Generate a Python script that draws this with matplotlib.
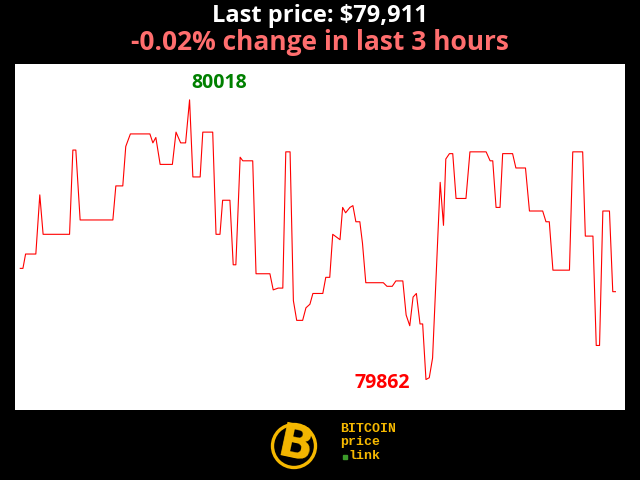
############################ Bitcoin price chart ############################
'''
Last 3 hours of bitcoin price with the high and low marked
'''
import matplotlib.pyplot as plt
from matplotlib.patches import Circle, Rectangle

minutes = [0, 0.8, 1.6, 4.7, 5.9, 6.9, 14.9, 15.9, 16.8, 18.1,
           28.0, 28.9, 31.0, 31.9, 33.3, 39.2, 40.1, 41.0, 42.3, 46.0,
           47.1, 48.5, 50.0, 51.2, 52.2, 54.4, 55.2, 58.2, 59.2, 60.4,
           61.2, 63.4, 64.4, 65.2, 66.5, 67.3, 70.3, 71.3, 75.5, 76.5,
           78.0, 79.4, 80.3, 81.6, 82.6, 83.6, 85.4, 86.4, 87.6, 88.5,
           91.5, 92.4, 93.6, 94.5, 96.7, 97.5, 98.4, 99.7, 100.6, 101.5,
           102.7, 103.5, 104.5, 109.8, 110.9, 112.5, 113.6, 115.7, 116.7, 117.8,
           118.8, 119.8, 120.9, 121.7, 122.7, 123.7, 124.7, 127.0, 128.0, 128.7,
           129.8, 130.8, 131.8, 134.8, 136.0, 140.9, 142.1, 142.9, 143.9, 145.1,
           145.9, 148.9, 149.9, 152.8, 154.0, 158.0, 159.0, 160.0, 161.1, 166.1,
           167.1, 170.1, 170.9, 173.2, 174.2, 175.2, 176.2, 178.2, 179.2, 180.0]
prices = [79924, 79924, 79932, 79932, 79965, 79943, 79943, 79990, 79990, 79951,
          79951, 79970, 79970, 79992, 79999, 79999, 79994, 79997, 79982, 79982,
          80000, 79994, 79994, 80018, 79975, 79975, 80000, 80000, 79943, 79943,
          79962, 79962, 79926, 79926, 79986, 79984, 79984, 79921, 79921, 79912,
          79913, 79913, 79989, 79989, 79906, 79895, 79895, 79902, 79904, 79910,
          79910, 79919, 79919, 79943, 79940, 79958, 79955, 79958, 79959, 79950,
          79950, 79938, 79916, 79916, 79914, 79914, 79917, 79917, 79898, 79892,
          79908, 79910, 79893, 79893, 79862, 79863, 79874, 79972, 79948, 79985,
          79988, 79988, 79963, 79963, 79989, 79989, 79984, 79984, 79958, 79958,
          79988, 79988, 79980, 79980, 79956, 79956, 79950, 79950, 79923, 79923,
          79989, 79989, 79942, 79942, 79881, 79881, 79956, 79956, 79911, 79911]
last_price = 79911
change_pct = -0.02
hours = 3

############################# Figure ########################################
fig = plt.figure(figsize=(6.4, 4.8), dpi=100, facecolor='black')
ax = fig.add_axes([15/640, 70/480, 610/640, 346/480])
ax.set_facecolor('white')
ax.plot(minutes, prices, color='red', linewidth=0.8)
ax.set_xlim(-1.6, 182.9)
ax.set_ylim(79845, 80038)
ax.set_xticks([])
ax.set_yticks([])
for s in ax.spines.values():
    s.set_visible(False)

hi = max(prices)
lo = min(prices)
i_hi = prices.index(hi)
i_lo = prices.index(lo)
ax.text(minutes[i_hi] + 9, hi + 9.5, str(hi), color='green', fontsize=14,
        fontweight='bold', family='Open Sans', ha='center', va='center')
ax.text(minutes[i_lo] - 13.3, lo - 2, str(lo), color='red', fontsize=14,
        fontweight='bold', family='Open Sans', ha='center', va='center')

fig.text(0.5, 1 - 16/480, 'Last price: ${:,}'.format(last_price), color='white',
         fontsize=17, fontweight='bold', family='Open Sans', ha='center', va='center')
fig.text(0.5, 1 - 43/480, '{:.2f}% change in last {} hours'.format(change_pct, hours),
         color='#ff6e6e', fontsize=19, fontweight='bold', family='Open Sans',
         ha='center', va='center')

############################# Logo ##########################################
gold = '#f5b800'
lax = fig.add_axes([265/640, 5/480, 60/640, 60/480])
lax.set_xlim(0, 60)
lax.set_ylim(0, 60)
lax.axis('off')
lax.add_patch(Circle((29, 29), 21.5, facecolor='black', edgecolor=gold, linewidth=2.4))
lax.text(30, 29, 'B', color=gold, fontsize=33, fontweight='bold', family='DejaVu Sans',
         ha='center', va='center', rotation=-12)
fig.text(340/640, 1 - 429/480, 'BITCOIN', color=gold, fontsize=9.5, fontweight='bold',
         family='Liberation Mono', ha='left', va='center')
fig.text(340/640, 1 - 442/480, 'price', color=gold, fontsize=9.5, fontweight='bold',
         family='Liberation Mono', ha='left', va='center')
fig.text(348/640, 1 - 456/480, 'link', color=gold, fontsize=9.5, fontweight='bold',
         family='Liberation Mono', ha='left', va='center')
fig.add_artist(Rectangle((343/640, 1 - 459/480), 4/640, 4/480,
                         transform=fig.transFigure, color='#3c9a2a'))

fig.savefig('out.png', dpi=100, facecolor='black')
